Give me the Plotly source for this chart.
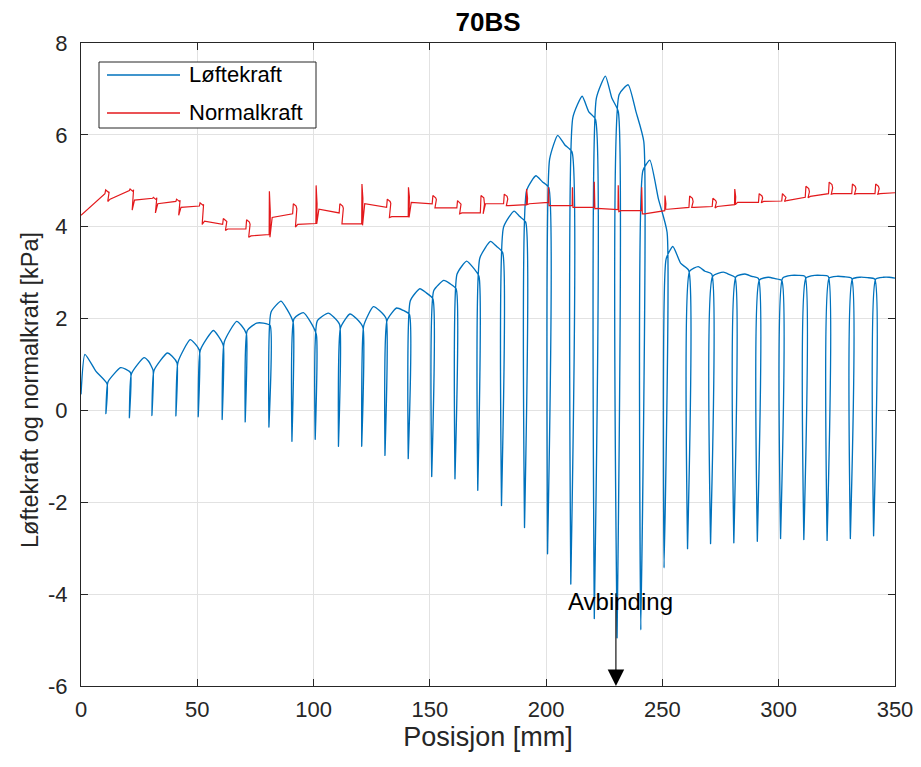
import plotly.graph_objects as go

# ---------------- Løftekraft (lift force), read per 10 mm cycle ----------------
# positions of the bottom of each sharp dip [mm] and the dip minima [kPa]
dip_x = [10.7, 20.8, 30.5, 40.8, 50.4, 60.7, 70.6, 80.8, 90.7, 100.7, 110.7, 120.7,
         130.7, 140.7, 150.8, 160.8, 170.6, 180.8, 190.7, 200.6, 210.6, 220.7, 230.5,
         240.7, 250.7, 260.8, 270.7, 280.7, 290.8, 300.8, 310.8, 320.8, 330.8, 340.8]
dip_y = [-0.07, -0.16, -0.11, -0.12, -0.14, -0.20, -0.25, -0.36, -0.67, -0.63, -0.78,
         -0.78, -0.98, -1.05, -1.44, -1.49, -1.74, -2.07, -2.55, -3.12, -3.78, -4.53,
         -4.95, -4.78, -3.43, -3.01, -2.90, -2.88, -2.85, -2.79, -2.81, -2.83, -2.79, -2.73]
# per cycle (35 cycles): value just after recovery, peak position/value, mid-decay value, value before next dip
rise_y = [0.35, 0.62, 0.80, 0.87, 1.05, 1.31, 1.49, 1.74, 2.14, 2.00, 1.95, 1.80, 1.85,
          1.96, 2.39, 2.61, 2.97, 3.32, 3.99, 4.79, 5.47, 6.38, 6.80, 6.88, 5.22, 3.30,
          3.03, 2.92, 2.91, 2.84, 2.88, 2.88, 2.88, 2.86, 2.86]
peak_x = [1.7, 17.0, 27.1, 37.1, 46.9, 56.9, 66.9, 75.5, 86.0, 95.6, 106.3, 115.6, 125.7,
          135.7, 145.7, 156.0, 165.8, 176.1, 186.2, 195.6, 205.0, 215.5, 225.5, 235.3,
          244.6, 254.5, 265.4, 276.2, 285.5, 295.5, 305.5, 315.5, 325.0, 335.0, 345.0]
peak_y = [1.22, 0.93, 1.15, 1.25, 1.54, 1.74, 1.94, 1.90, 2.38, 2.13, 2.12, 2.10, 2.26,
          2.23, 2.65, 2.83, 3.25, 3.68, 4.34, 5.11, 5.99, 6.84, 7.28, 7.09, 5.45, 3.57,
          3.13, 3.01, 2.97, 2.90, 2.94, 2.94, 2.92, 2.90, 2.90]
mid_y = [0.85, 0.90, 1.07, 1.18, 1.46, 1.62, 1.85, 1.90, 2.20, 1.95, 2.03, 2.00, 2.17,
         2.18, 2.56, 2.76, 3.12, 3.57, 4.22, 4.98, 5.78, 6.50, 6.80, 6.50, 4.60, 3.20,
         3.03, 2.96, 2.92, 2.87, 2.94, 2.94, 2.91, 2.89, 2.90]
end_y = [0.58, 0.82, 0.87, 1.03, 1.31, 1.41, 1.67, 1.85, 1.92, 1.65, 1.87, 1.81, 2.00,
         2.09, 2.43, 2.65, 2.92, 3.44, 4.10, 4.86, 5.63, 6.34, 6.51, 5.85, 3.88, 3.05,
         2.97, 2.90, 2.87, 2.83, 2.92, 2.92, 2.88, 2.86, 2.88]

# ---------------- Normalkraft (normal force), read per event ----------------
red_start = (0.0, 4.25)
red_end = (350.0, 4.74)
ev_x = [10.3, 20.8, 30.8, 40.8, 50.9, 60.9, 70.9, 80.9, 91.0, 101.0, 111.0, 120.7, 131.4,
        140.7, 151.0, 161.6, 171.7, 181.7, 191.5, 200.9, 211.2, 220.6, 230.9, 241.0,
        251.0, 261.4, 271.4, 281.0, 291.3, 301.3, 311.4, 321.4, 331.4, 341.4]
ev_pre = [4.72, 4.79, 4.62, 4.55, 4.45, 4.05, 3.95, 3.83, 4.28, 4.07, 4.30, 4.06, 4.42,
          4.22, 4.50, 4.41, 4.30, 4.50, 4.48, 4.53, 4.46, 4.42, 4.37, 4.35, 4.35, 4.42,
          4.44, 4.48, 4.53, 4.56, 4.64, 4.72, 4.72, 4.72]
ev_hi = [4.80, 4.82, 4.64, 4.60, 4.52, 4.18, 4.15, 4.77, 4.50, 4.90, 4.50, 4.93, 4.60,
         4.86, 4.68, 4.57, 4.68, 4.71, 4.82, 4.86, 4.86, 4.98, 4.90, 4.86, 4.68, 4.67,
         4.62, 4.82, 4.72, 4.72, 4.88, 4.97, 4.93, 4.93]
ev_lo = [4.55, 4.36, 4.30, 4.25, 4.05, 3.92, 3.77, 3.77, 3.99, 4.06, 4.06, 4.03, 4.20,
         4.20, 4.41, 4.28, 4.28, 4.46, 4.48, 4.46, 4.42, 4.39, 4.33, 4.28, 4.38, 4.42,
         4.41, 4.48, 4.52, 4.55, 4.63, 4.71, 4.71, 4.71]
ev_post = [4.60, 4.58, 4.50, 4.42, 4.12, 3.95, 3.80, 4.20, 4.05, 4.38, 4.06, 4.50, 4.22,
           4.53, 4.41, 4.30, 4.50, 4.46, 4.50, 4.46, 4.42, 4.40, 4.35, 4.28, 4.38, 4.42,
           4.44, 4.53, 4.55, 4.57, 4.66, 4.72, 4.72, 4.72]

# ---------------- axis tick labels / texts ----------------
x_ticks = [0, 50, 100, 150, 200, 250, 300, 350]
y_ticks = [-6, -4, -2, 0, 2, 4, 6, 8]
y_tick_text = ["-6", "-4", "-2", "0", "2", "4", "6", "8"]
series_names = ["Løftekraft", "Normalkraft"]
series_colors = ["#0072BD", "#E3191C"]

# ---------------- build the polylines from the read values ----------------
lx, ly = [], []
n_cyc = len(peak_x)
for c in range(n_cyc):
    sx = 0.0 if c == 0 else dip_x[c - 1] + 0.9
    ex = dip_x[c] + (1.3 if c in (23, 24) else 0.5) if c < len(dip_x) else 350.0
    lx += [sx, peak_x[c], (peak_x[c] + ex) / 2, ex]
    ly += [rise_y[c], peak_y[c], mid_y[c], end_y[c]]
    if c < len(dip_x):
        lx.append(dip_x[c])
        ly.append(dip_y[c])

rx, ry = [red_start[0]], [red_start[1]]
for i in range(len(ev_x)):
    x, pre, top, lo, post = ev_x[i], ev_pre[i], ev_hi[i], ev_lo[i], ev_post[i]
    if top - max(pre, post) > 0.25:      # tall spike
        rx += [x, x + 0.1, x + 0.5, x + 0.35, x + 1.3]
        ry += [pre, top, post + 0.12, lo, post]
    else:                                # small loop
        rx += [x, x + 0.3, x + 1.5, x + 1.8, x + 1.2, x + 2.2]
        ry += [pre, top, top - 0.05, (pre + top) / 2, lo, post]
rx.append(red_end[0])
ry.append(red_end[1])

FONT = "Liberation Sans, Arial, Helvetica, sans-serif"
AX = "#262626"

fig = go.Figure()
fig.add_trace(go.Scatter(x=lx, y=ly, mode="lines", name=series_names[0], showlegend=False,
                         line=dict(color=series_colors[0], width=1.35, shape="spline", smoothing=0.5)))
fig.add_trace(go.Scatter(x=rx, y=ry, mode="lines", name=series_names[1], showlegend=False,
                         line=dict(color=series_colors[1], width=1.2)))

# annotation: Avbinding with downward arrow at 230 mm
fig.add_annotation(x=230, y=-6, ax=230, ay=-3.95, xref="x", yref="y", axref="x", ayref="y",
                   text="", showarrow=True, arrowhead=2, arrowsize=3.0, arrowwidth=1.1,
                   arrowcolor="#000000")
fig.add_annotation(x=232, y=-4.15, xref="x", yref="y", text="Avbinding", showarrow=False,
                   font=dict(family=FONT, size=24, color="#000000"))

# legend box (MATLAB style: long line samples, tight box)
PW, PH = 814.0, 643.0          # plot area size in px
def px_x(p):
    return (p - 81) / PW
def px_y(p):
    return (686 - p) / PH

fig.add_shape(type="rect", xref="paper", yref="paper", x0=px_x(99), x1=px_x(316),
              y0=px_y(128), y1=px_y(62), line=dict(color=AX, width=1), fillcolor="white",
              layer="above")
for k, (nm, col) in enumerate(zip(series_names, series_colors)):
    yy = px_y(75 + 38 * k)
    fig.add_shape(type="line", xref="paper", yref="paper", x0=px_x(107), x1=px_x(180),
                  y0=yy, y1=yy, line=dict(color=col, width=1.3), layer="above")
    fig.add_annotation(xref="paper", yref="paper", x=px_x(187), y=yy, text=nm,
                       xanchor="left", yanchor="middle", showarrow=False,
                       font=dict(family=FONT, size=22, color="#000000"))

# y axis title placed as in the reference
fig.add_annotation(xref="paper", yref="paper", x=px_x(30), y=px_y(390),
                   text="Løftekraft og normalkraft [kPa]", textangle=-90, showarrow=False,
                   xanchor="center", yanchor="middle",
                   font=dict(family=FONT, size=23.5, color=AX))

axis_common = dict(showline=True, linecolor=AX, linewidth=1, mirror="ticks",
                   ticks="inside", ticklen=7, tickcolor=AX, showgrid=True,
                   gridcolor="#e2e2e2", gridwidth=1, zeroline=False, automargin=False,
                   tickfont=dict(family=FONT, size=22, color=AX))

fig.update_layout(
    width=921, height=767,
    margin=dict(l=73, r=34, t=35, b=89),
    paper_bgcolor="white", plot_bgcolor="white",
    title=dict(text="<b>70BS</b>", x=0.5, xref="paper", y=1 - 14 / 767, yanchor="middle",
               font=dict(family=FONT, size=26, color="#000000")),
    xaxis=dict(range=[0, 350], tickvals=x_ticks, ticklabelstandoff=4,
               title=dict(text="Posisjon [mm]", standoff=5,
                          font=dict(family=FONT, size=27, color=AX)),
               **axis_common),
    yaxis=dict(range=[-6, 8], tickvals=y_ticks, ticktext=y_tick_text, ticklabelstandoff=8,
               **axis_common),
    showlegend=False,
)

fig.write_html("out.html")
